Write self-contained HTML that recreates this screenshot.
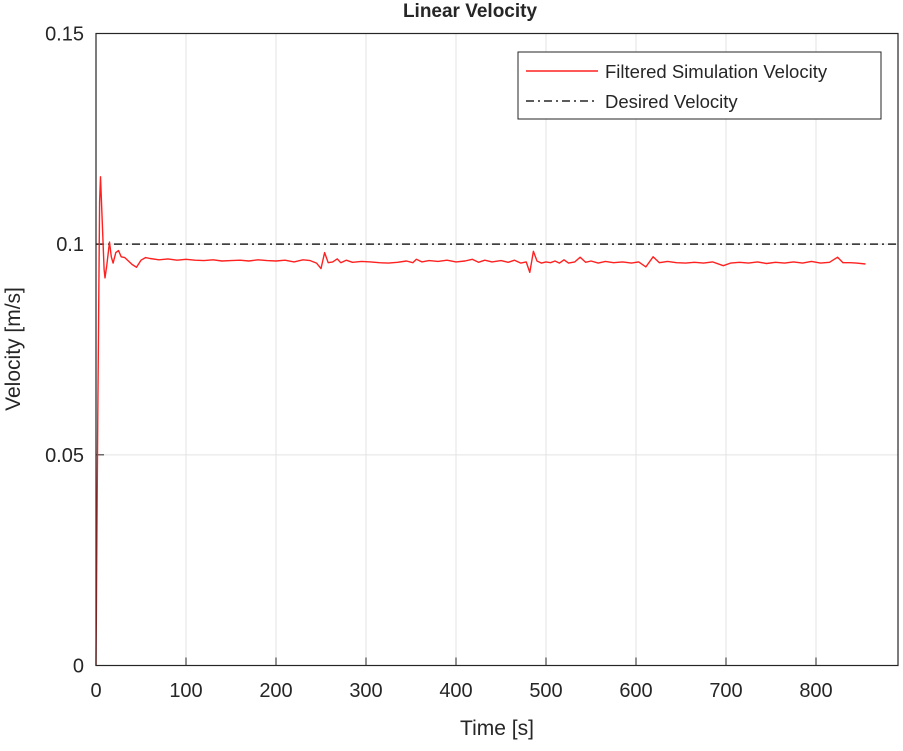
<!DOCTYPE html>
<html><head><meta charset="utf-8"><style>
body{margin:0;background:#fff;}
svg text{font-family:"Liberation Sans",sans-serif;fill:#262626;}
</style></head><body>
<svg id="chart" width="903" height="746" xmlns="http://www.w3.org/2000/svg">
<rect x="0" y="0" width="903" height="746" fill="#fff"/>
<g id="grid"></g>
<g id="ticks"></g>
<g id="series"></g>
<rect x="96" y="33.5" width="802" height="632" fill="none" stroke="#262626" stroke-width="1.2"/>
<text x="470" y="17" text-anchor="middle" font-size="19" font-weight="bold" fill="#000">Linear Velocity</text>
<text x="497" y="735" text-anchor="middle" font-size="21">Time [s]</text>
<text transform="translate(20,349) rotate(-90)" text-anchor="middle" font-size="21">Velocity [m/s]</text>
<g>
<rect x="518" y="52" width="363" height="67" fill="#fff" stroke="#262626" stroke-width="1"/>
<line x1="526" y1="71" x2="598" y2="71" stroke="#ff2020" stroke-width="1.5"/>
<text x="605" y="78" font-size="18.5">Filtered Simulation Velocity</text>
<line x1="526" y1="101" x2="598" y2="101" stroke="#262626" stroke-width="1.5" stroke-dasharray="8,4,2,4"/>
<text x="605" y="108" font-size="18.5">Desired Velocity</text>
</g>
</svg>
<script>
const xTicks=[0,100,200,300,400,500,600,700,800];
const yTicks=[0,0.05,0.1,0.15];
const yTickLabels=["0","0.05","0.1","0.15"];
const desiredVelocity=0.1;
const times=[0,2,4,5,7,9,10,12,15,17,19,22,25,28,32,36,40,45,50,55,60,70,80,90,100,110,120,130,140,150,160,170,180,190,200,210,220,230,238,245,250,254,258,263,268,272,278,285,295,305,315,325,335,345,352,356,362,370,380,390,400,410,418,425,432,440,450,458,465,472,478,482,486,490,495,500,505,510,515,520,525,532,538,544,550,558,566,575,585,595,603,611,619,626,635,645,655,665,675,685,697,705,715,725,735,745,755,765,775,785,795,805,815,824,830,838,845,855];
const velocities=[0,0.06,0.11,0.116,0.105,0.094,0.092,0.095,0.1005,0.097,0.0955,0.098,0.0985,0.097,0.0968,0.096,0.0952,0.0945,0.0962,0.0968,0.0966,0.0963,0.0965,0.0962,0.0964,0.0962,0.0961,0.0963,0.096,0.0961,0.0962,0.096,0.0963,0.0961,0.096,0.0962,0.0958,0.0963,0.0961,0.0955,0.0942,0.098,0.0956,0.0958,0.0965,0.0956,0.0962,0.0957,0.0959,0.0958,0.0956,0.0955,0.0957,0.096,0.0956,0.0964,0.0958,0.0961,0.0959,0.0962,0.0958,0.096,0.0964,0.0957,0.0962,0.0958,0.0961,0.0957,0.0962,0.0955,0.0958,0.0933,0.0983,0.096,0.0955,0.0958,0.0956,0.096,0.0955,0.0963,0.0955,0.0958,0.0969,0.0957,0.096,0.0955,0.0959,0.0956,0.0958,0.0955,0.0958,0.0946,0.097,0.0956,0.0959,0.0956,0.0955,0.0957,0.0955,0.0958,0.0949,0.0955,0.0957,0.0955,0.0958,0.0954,0.0957,0.0955,0.0958,0.0955,0.0959,0.0955,0.0957,0.0969,0.0956,0.0956,0.0955,0.0953];
const NS="http://www.w3.org/2000/svg";
const X0=96,X1=898,Y0=665.5,Y1=33.5,XMAX=(898-96)/0.9,YMAX=0.15;
function xs(t){return X0+(t/XMAX)*(X1-X0);}
function ys(v){return Y0-(v/YMAX)*(Y0-Y1);}
function mk(tag,attrs,parent){const e=document.createElementNS(NS,tag);for(const k in attrs)e.setAttribute(k,attrs[k]);parent.appendChild(e);return e;}
const grid=document.getElementById('grid'),ticks=document.getElementById('ticks'),series=document.getElementById('series');
xTicks.forEach(t=>{
  const g=mk('line',{x1:xs(t),x2:xs(t),y1:Y1,y2:Y0,stroke:'#e3e3e3','stroke-width':1},grid);
  
  
  const tk=mk('line',{x1:xs(t),x2:xs(t),y1:Y0,y2:Y0-8,stroke:'#262626','stroke-width':1},ticks);
  
  
  const lb=mk('text',{x:xs(t),y:697,'text-anchor':'middle','font-size':20},ticks);
  lb.textContent=String(t);
  
  
});
yTicks.forEach((v,i)=>{
  const g=mk('line',{x1:X0,x2:X1,y1:ys(v),y2:ys(v),stroke:'#e3e3e3','stroke-width':1},grid);
  
  
  const tk=mk('line',{x1:X0,x2:X0+8,y1:ys(v),y2:ys(v),stroke:'#262626','stroke-width':1},ticks);
  
  
  const lb=mk('text',{x:84,y:ys(v)+7,'text-anchor':'end','font-size':20},ticks);
  lb.textContent=yTickLabels[i];
  
  
});
const d=mk('line',{x1:X0,x2:X1,y1:ys(desiredVelocity),y2:ys(desiredVelocity),stroke:'#262626','stroke-width':1.5,'stroke-dasharray':'8,4,2,4'},series);


const pts=times.map((t,i)=>xs(t).toFixed(1)+','+ys(velocities[i]).toFixed(1)).join(' ');
const p=mk('polyline',{points:pts,fill:'none',stroke:'#ff2020','stroke-width':1.4,'stroke-linejoin':'round'},series);


</script>
</body></html>
